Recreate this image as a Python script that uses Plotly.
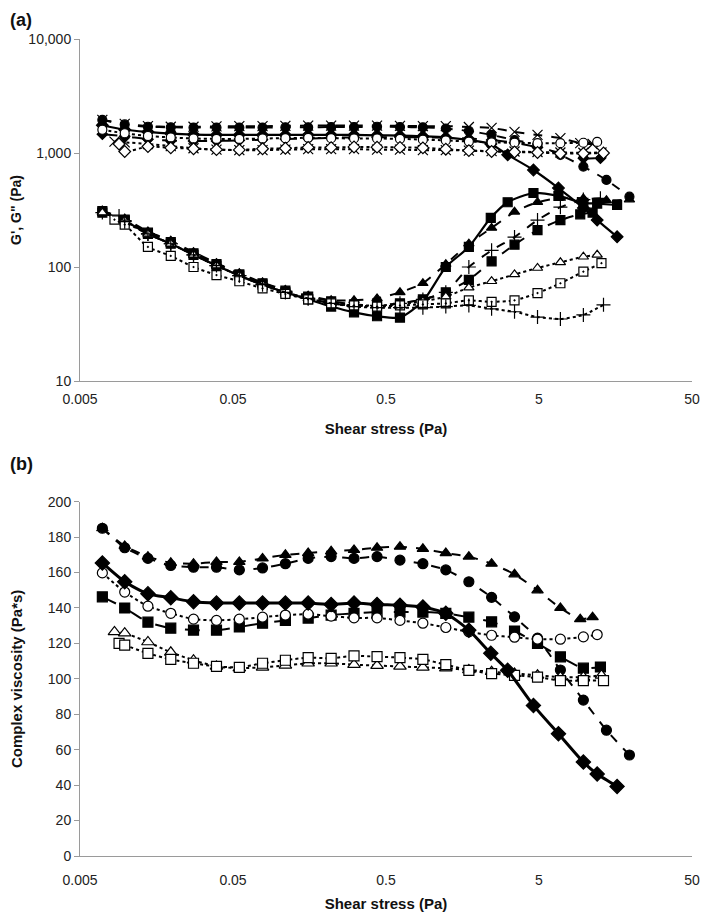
import plotly.graph_objects as go
from plotly.subplots import make_subplots

# shear stress values (Pa), common grid of the sweep
STRESS = [0.007, 0.0098, 0.0139, 0.0196, 0.0276, 0.039, 0.055, 0.078, 0.11, 0.155,
          0.219, 0.309, 0.437, 0.617, 0.871, 1.23, 1.74, 2.45, 3.46, 4.89,
          6.9, 9.75, 13.8, 19.5]

# per-sample stress points
x_s1 = STRESS[:21] + [9.3, 11.2]                                   # filled triangle
x_s2 = STRESS[:24]                                                 # filled circle
x_s3 = STRESS[:17] + [2.42, 3.12, 4.6, 6.7, 9.75, 12.0, 16.2]      # filled diamond
x_s4 = STRESS[:22] + [12.6]                                        # filled square
x_s5 = STRESS[:22] + [12.0]                                        # open circle
x_s6 = [0.0084, 0.0098] + STRESS[2:22] + [12.8]                    # open triangle
x_s7 = [0.0090, 0.0098] + STRESS[2:22] + [13.2]                    # open square

# ---- (a) storage modulus G' (Pa) ----
g1_s1 = [1950, 1800, 1720, 1700, 1700, 1710, 1720, 1720, 1730, 1740, 1740, 1740,
         1740, 1730, 1720, 1720, 1690, 1660, 1530, 1440, 1350, 1220, 1200]
g1_s2 = [1950, 1780, 1700, 1680, 1670, 1670, 1670, 1670, 1680, 1680, 1690, 1690,
         1700, 1690, 1680, 1640, 1560, 1440, 1300, 1175, 963, 760, 580, 414]
g1_s3 = [1750, 1600, 1530, 1480, 1450, 1440, 1440, 1440, 1440, 1440, 1440, 1440,
         1430, 1420, 1400, 1370, 1300, 1200, 963, 710, 493, 330, 258, 184]
g1_s4 = [1460, 1400, 1320, 1285, 1275, 1275, 1290, 1310, 1330, 1340, 1360, 1370,
         1375, 1375, 1370, 1360, 1340, 1300, 1230, 1120, 1000, 900, 900]
g1_s5 = [1600, 1490, 1410, 1370, 1340, 1330, 1330, 1340, 1350, 1360, 1350, 1340,
         1340, 1330, 1310, 1290, 1260, 1240, 1230, 1220, 1220, 1230, 1250]
g1_s6 = [1260, 1240, 1200, 1150, 1100, 1070, 1060, 1060, 1070, 1080, 1080, 1080,
         1070, 1070, 1060, 1060, 1050, 1040, 1030, 1020, 1010, 1005, 1010]
g1_s7 = [1200, 1030, 1140, 1110, 1090, 1070, 1065, 1090, 1100, 1120, 1115, 1130,
         1125, 1120, 1110, 1080, 1050, 1030, 1020, 1010, 990, 990, 1000]

# ---- (a) loss modulus G'' (Pa) ----
g2_s1 = [310, 260, 200, 165, 132, 106, 86, 72, 62, 55, 50, 47, 46, 48, 52, 60,
         77, 112, 157, 211, 258, 290, 300]
g2_s2 = [310, 265, 205, 170, 135, 108, 88, 73, 63, 56, 51, 51, 53, 60, 72, 106,
         160, 220, 305, 370, 403, 400, 385, 390]
g2_s3 = [300, 255, 195, 160, 128, 103, 84, 70, 60, 52, 45, 40, 37, 36, 50, 100,
         150, 270, 370, 446, 420, 365, 360, 350]
g2_s4 = [300, 255, 195, 160, 128, 103, 84, 70, 60, 53, 48, 46, 46, 48, 52, 60,
         100, 140, 183, 258, 335, 390, 400]
g2_s5 = [300, 255, 195, 160, 128, 103, 84, 70, 60, 53, 48, 46, 46, 47, 50, 55,
         66, 75, 86, 98, 110, 123, 128]
g2_s6 = [260, 235, 150, 125, 100, 85, 75, 65, 58, 52, 48, 46, 45, 46, 47, 48,
         51, 49.5, 51, 59, 72, 91, 108]
g2_s7 = [280, 250, 195, 160, 128, 103, 84, 70, 60, 53, 48, 45, 44, 44, 44, 45,
         46, 43, 40.5, 36.4, 35, 38, 46.6]

# ---- (b) complex viscosity (Pa*s) ----
eta_s1 = [185, 175, 169, 165.5, 165, 166, 166, 168, 170, 171, 172, 172.8, 174,
          174.6, 173.4, 171, 169, 165, 159, 150, 140, 133.7, 134.8]
eta_s2 = [185, 174, 168, 164, 163, 163, 161.5, 162.6, 165, 168, 169, 168, 169,
          167, 165, 161.5, 154.8, 146, 135, 123, 105, 88, 71, 57]
eta_s3 = [165.4, 154.8, 148, 145.8, 143.5, 142.8, 142.8, 142.8, 142.8, 142.8, 142,
          142.8, 142, 141.6, 140.6, 137, 127.5, 114.4, 104.8, 85, 69, 53, 46.3, 39.3]
eta_s4 = [146.3, 140, 132, 128.6, 127.5, 127.5, 129.3, 131.4, 133, 134.3, 136, 137,
          137.7, 137.7, 137.7, 137, 134.8, 132.2, 127, 120, 112.4, 106, 106.7]
eta_s5 = [159.8, 149, 141, 137, 133.7, 133, 133.7, 134.8, 136, 136.5, 135.4, 134.4,
          134.4, 133, 131.4, 129, 126.5, 124.6, 123.5, 122.4, 122.4, 123.7, 125]
eta_s6 = [126.5, 125.8, 120.8, 115, 110.5, 107, 106, 106.5, 107.6, 108.8, 108.8, 108,
          107.5, 107, 106.5, 106, 105, 104, 103, 102, 101, 101, 102]
eta_s7 = [120, 119, 114.4, 111, 108.8, 107, 106.5, 108.8, 110.5, 112, 111.6, 113,
          112.5, 112, 111, 108, 104.8, 103, 102, 101, 99, 99, 99]

X_TICKS = [0.005, 0.05, 0.5, 5, 50]
X_TICKTEXT = ["0.005", "0.05", "0.5", "5", "50"]
YA_TICKS = [10, 100, 1000, 10000]
YA_TICKTEXT = ["10", "100", "1,000", "10,000"]
YB_TICKS = [0, 20, 40, 60, 80, 100, 120, 140, 160, 180, 200]

FONT = "Liberation Sans, Arial, sans-serif"
# the page body keeps an 8px margin on every side, so the figure is 16px smaller
OFF = 8
W, H = 709 - 2 * OFF, 920 - 2 * OFF

fig = make_subplots(rows=2, cols=1)


def add(x, y, symbol, dash, row, size=9, width=2, fill="black"):
    fig.add_trace(go.Scatter(
        x=x, y=y, mode="lines+markers",
        line=dict(color="black", width=width, dash=dash, shape="spline", smoothing=0.6),
        marker=dict(symbol=symbol, size=size, color=fill,
                    line=dict(color="black", width=1.2)),
        showlegend=False
    ), row=row, col=1)


# ----- (a) G' -----
add(x_s1, g1_s1, "x-thin", "dash", 1, size=10)
add(x_s2, g1_s2, "circle", "dash", 1)
add(x_s3, g1_s3, "diamond", "solid", 1, width=2.2)
add(x_s4, g1_s4, "diamond", "longdash", 1, size=8)
add(x_s5, g1_s5, "circle", "dot", 1, fill="white")
add(x_s6, g1_s6, "x-thin", "dot", 1, size=10)
add(x_s7, g1_s7, "diamond", "dot", 1, fill="white")
# ----- (a) G'' -----
add(x_s1, g2_s1, "square", "dash", 1)
add(x_s2, g2_s2, "triangle-up", "dash", 1)
add(x_s3, g2_s3, "square", "solid", 1, width=2.2)
add(x_s4, g2_s4, "cross-thin", "dash", 1, size=10)
add(x_s5, g2_s5, "triangle-up", "dot", 1, fill="white")
add(x_s6, g2_s6, "square-dot", "dot", 1, fill="white")
add(x_s7, g2_s7, "cross-thin", "dot", 1, size=10)

# ----- (b) complex viscosity -----
add(x_s1, eta_s1, "triangle-up", "dash", 2, size=10)
add(x_s2, eta_s2, "circle", "dash", 2, size=10)
add(x_s4, eta_s4, "square", "longdash", 2, size=10)
add(x_s5, eta_s5, "circle", "dot", 2, size=10, fill="white")
add(x_s6, eta_s6, "triangle-up", "dot", 2, size=11, fill="white")
add(x_s7, eta_s7, "square", "dot", 2, size=10, fill="white")
add(x_s3, eta_s3, "diamond", "solid", 2, size=11, width=3)

axis_common = dict(
    showline=True, linecolor="#9a9a9a", linewidth=1,
    showgrid=False, zeroline=False, automargin=False,
    tickfont=dict(family=FONT, size=14, color="#222"),
)
x_dom = [(80 - OFF) / W, (692 - OFF) / W]

fig.update_xaxes(
    type="log", range=[-2.301, 1.699], domain=x_dom,
    tickmode="array", tickvals=X_TICKS, ticktext=X_TICKTEXT,
    ticks="", ticklabeloverflow="allow", **axis_common
)
fig.update_xaxes(ticklabelstandoff=5,
                 title=dict(text="<b>Shear stress (Pa)</b>",
                            font=dict(family=FONT, size=15, color="#111"), standoff=17),
                 row=1, col=1)
fig.update_xaxes(ticklabelstandoff=11,
                 title=dict(text="<b>Shear stress (Pa)</b>",
                            font=dict(family=FONT, size=15, color="#111"), standoff=22),
                 row=2, col=1)

fig.update_yaxes(
    type="log", range=[1, 4],
    tickmode="array", tickvals=YA_TICKS, ticktext=YA_TICKTEXT,
    ticks="outside", ticklen=5, tickcolor="#9a9a9a",
    title=dict(text="<b>G', G\" (Pa)</b>", font=dict(family=FONT, size=14, color="#111"),
               standoff=9),
    domain=[1 - (381 - OFF) / H, 1 - (39 - OFF) / H], row=1, col=1, **axis_common
)
fig.update_yaxes(
    range=[0, 200],
    tickmode="array", tickvals=YB_TICKS,
    ticks="outside", ticklen=5, tickcolor="#9a9a9a",
    title=dict(text="<b>Complex viscosity (Pa*s)</b>", font=dict(family=FONT, size=15, color="#111"),
               standoff=24),
    domain=[1 - (856 - OFF) / H, 1 - (501.7 - OFF) / H], row=2, col=1, **axis_common
)

fig.add_annotation(text="<b>(a)</b>", xref="paper", yref="paper", x=0.0, y=1.0,
                   xanchor="left", yanchor="top", showarrow=False,
                   font=dict(family=FONT, size=18, color="#111"))
fig.add_annotation(text="<b>(b)</b>", xref="paper", yref="paper", x=0.0, y=1 - (452 - OFF) / H,
                   xanchor="left", yanchor="top", showarrow=False,
                   font=dict(family=FONT, size=18, color="#111"))

fig.update_layout(
    width=W, height=H,
    margin=dict(l=0, r=0, t=0, b=0),
    paper_bgcolor="white", plot_bgcolor="white",
    showlegend=False,
    font=dict(family=FONT, color="#111"),
)

fig.write_html("out.html")
